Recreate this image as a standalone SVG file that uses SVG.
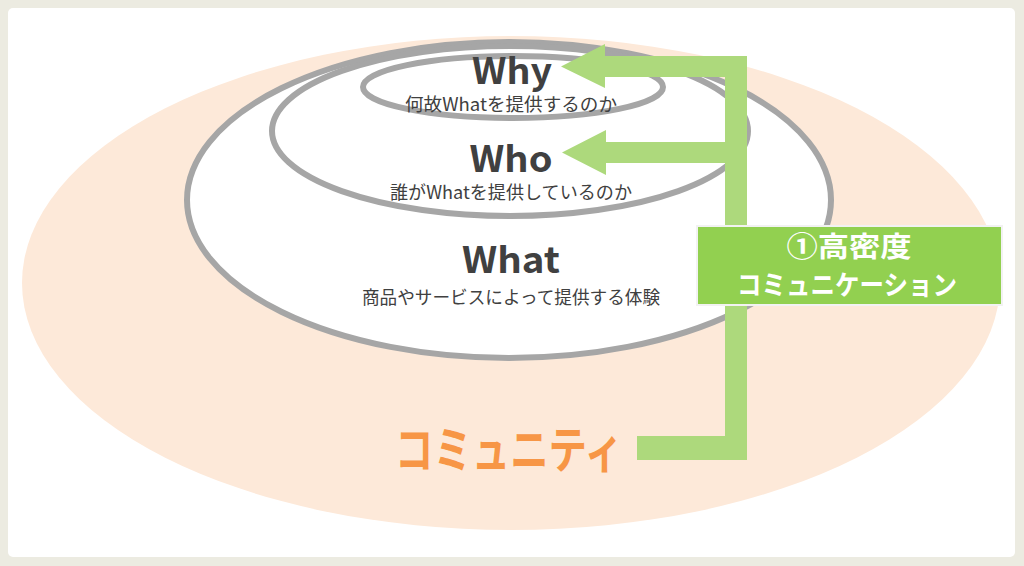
<svg xmlns="http://www.w3.org/2000/svg" width="1024" height="566" viewBox="0 0 1024 566">
<style>
.ring{fill:#ffffff;stroke:#a6a6a6;stroke-width:6}
.head{font-family:"Noto Sans CJK JP","Open Sans",sans-serif;font-weight:700;fill:#404040;text-anchor:middle}
.sub{font-family:"Noto Sans CJK JP",sans-serif;font-weight:400;fill:#404040;text-anchor:middle;font-size:18px}
.bar{fill:#add97c}
.box{font-family:"Noto Sans CJK JP",sans-serif;font-weight:700;fill:#ffffff;text-anchor:middle}
</style>
<rect x="0" y="0" width="1024" height="566" fill="#ecebe1"/>
<rect x="8" y="8" width="1007" height="549" rx="5" fill="#ffffff"/>
<g id="community">
<ellipse cx="511" cy="283" rx="489" ry="247" fill="#fde9d9"/>
<text x="395" y="468" font-family="'Noto Sans CJK JP',sans-serif" font-weight="700" font-size="50" fill="#f79646" textLength="228" lengthAdjust="spacingAndGlyphs">コミュニティ</text>
</g>
<g id="what">
<ellipse class="ring" cx="509" cy="200" rx="322" ry="158"/>
</g>
<g id="who">
<ellipse class="ring" cx="510" cy="131" rx="238" ry="85"/>
</g>
<g id="why">
<ellipse class="ring" cx="513" cy="87" rx="150" ry="31"/>
<text class="head" x="512" y="84" font-size="36" textLength="80" lengthAdjust="spacingAndGlyphs">Why</text>
<text class="sub" x="511" y="111" textLength="212" lengthAdjust="spacingAndGlyphs">何故Whatを提供するのか</text>
</g>
<g id="who-label">
<text class="head" x="511" y="172" font-size="36" textLength="83" lengthAdjust="spacingAndGlyphs">Who</text>
<text class="sub" x="511" y="199" textLength="242" lengthAdjust="spacingAndGlyphs">誰がWhatを提供しているのか</text>
</g>
<g id="what-label">
<text class="head" x="511" y="273" font-size="36" textLength="98" lengthAdjust="spacingAndGlyphs">What</text>
<text class="sub" x="511" y="304" textLength="298" lengthAdjust="spacingAndGlyphs">商品やサービスによって提供する体験</text>
</g>
<g id="connectors">
<polygon class="bar" points="637,436 725,436 725,77 605,77 605,88 561,66.5 605,44 605,56 747,56 747,460 637,460"/>
<polygon class="bar" points="725,142 606,142 606,130 562,152.5 606,175 606,163 725,163"/>
</g>
<g id="high-density">
<rect x="697" y="226" width="305" height="79" fill="#92d050" stroke="#f2f2f2" stroke-width="2"/>
<text class="box" x="849" y="257" font-size="28" textLength="125" lengthAdjust="spacingAndGlyphs">①高密度</text>
<text class="box" x="847" y="295" font-size="27" textLength="220" lengthAdjust="spacingAndGlyphs">コミュニケーション</text>
</g>
</svg>
